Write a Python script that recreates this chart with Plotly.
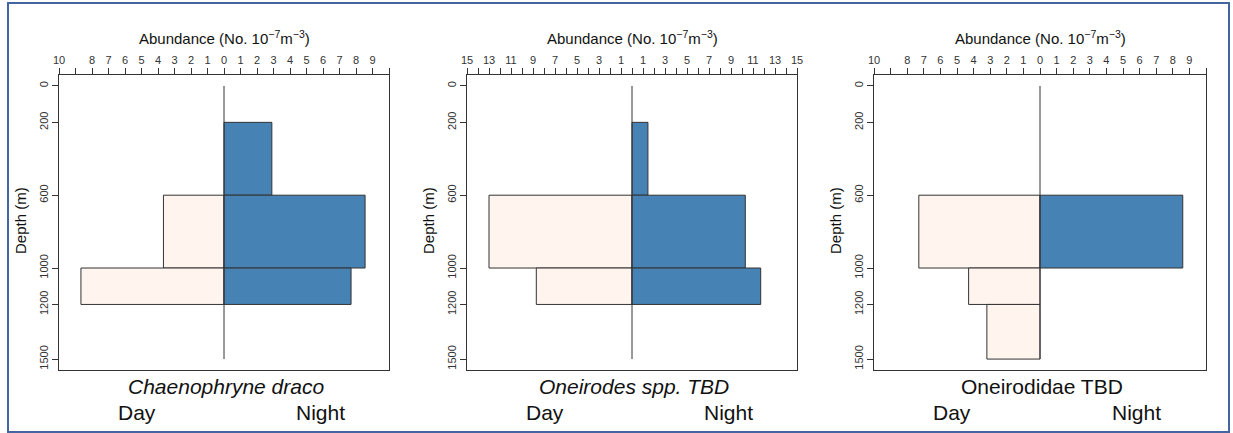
import plotly.graph_objects as go

# ---- data ----
species = ["Chaenophryne draco", "Oneirodes spp. TBD", "Oneirodidae TBD"]
italic = [True, True, False]
bin_top = [200, 600, 1000, 1200]
bin_bottom = [600, 1000, 1200, 1500]
night_vals = [
    [2.9, 8.55, 7.7, 0],
    [1.45, 10.3, 11.7, 0],
    [0, 8.6, 0, 0],
]
day_vals = [
    [0, 3.67, 8.67, 0],
    [0, 13.0, 8.7, 0],
    [0, 7.3, 4.3, 3.2],
]
xmax = [10, 15, 10]
depth_ticks = [0, 200, 600, 1000, 1200, 1500]
# top-axis labels per panel (None -> tick without label)
tick_labels_p1 = ["10", None, "8", "7", "6", "5", "4", "3", "2", "1", "0",
                  "1", "2", "3", "4", "5", "6", "7", "8", "9", None]
tick_labels_p2 = ["15", None, "13", None, "11", None, "9", None, "7", None, "5", None,
                  "3", None, "1", None, "1", None, "3", None, "5", None, "7", None,
                  "9", None, "11", None, "13", None, "15"]
tick_labels = [tick_labels_p1, tick_labels_p2, tick_labels_p1]

W, H = 1233, 433
panel_px = [(59, 389), (467, 797), (874, 1206)]
top_px, bot_px = 75, 370

fig = go.Figure()
axis_font = dict(family="Liberation Sans, Arial, sans-serif", size=11, color="#333333")
annotations = []

for i in range(3):
    xa = "x" if i == 0 else f"x{i+1}"
    ya = "y" if i == 0 else f"y{i+1}"
    ny, nw, nx = [], [], []
    for t, b, v in zip(bin_top, bin_bottom, night_vals[i]):
        if v > 0:
            ny.append((t + b) / 2); nw.append(b - t); nx.append(v)
    dy, dw, dx = [], [], []
    for t, b, v in zip(bin_top, bin_bottom, day_vals[i]):
        if v > 0:
            dy.append((t + b) / 2); dw.append(b - t); dx.append(-v)
    fig.add_trace(go.Bar(x=dx, y=dy, width=dw, base=0, orientation="h",
                         marker=dict(color="#FFF5EE", line=dict(color="#333333", width=1)),
                         xaxis=xa, yaxis=ya, showlegend=False))
    fig.add_trace(go.Bar(x=nx, y=ny, width=nw, base=0, orientation="h",
                         marker=dict(color="#4682B4", line=dict(color="#333333", width=1)),
                         xaxis=xa, yaxis=ya, showlegend=False))
    fig.add_trace(go.Scatter(x=[0, 0], y=[depth_ticks[0], depth_ticks[-1]], mode="lines",
                             line=dict(color="#333333", width=1),
                             xaxis=xa, yaxis=ya, showlegend=False, hoverinfo="skip"))

    m = xmax[i]
    tv = list(range(-m, m + 1))
    tt = [lab if lab is not None else "" for lab in tick_labels[i]]
    x0, x1 = panel_px[i]
    dom_x = [x0 / W, x1 / W]
    dom_y = [1 - bot_px / H, 1 - top_px / H]
    xkey = "xaxis" if i == 0 else f"xaxis{i+1}"
    ykey = "yaxis" if i == 0 else f"yaxis{i+1}"
    fig.layout[xkey] = dict(domain=dom_x, anchor=ya, side="top", range=[-m, m],
                            tickvals=tv, ticktext=tt, ticks="outside", ticklen=6,
                            tickcolor="#333333", showline=True, mirror=True,
                            linecolor="#333333", linewidth=1, showgrid=False,
                            zeroline=False, tickfont=axis_font, fixedrange=True,
                            automargin=False)
    fig.layout[ykey] = dict(domain=dom_y, anchor=xa, range=[1560, -60],
                            tickvals=depth_ticks, ticktext=[str(d) for d in depth_ticks],
                            ticks="outside", ticklen=6, tickcolor="#333333",
                            tickangle=-90, showline=True, mirror=True,
                            linecolor="#333333", linewidth=1, showgrid=False,
                            zeroline=False, tickfont=axis_font, fixedrange=True,
                            automargin=False)
    cx = (x0 + x1) / 2 / W
    common = dict(xref="paper", yref="paper", showarrow=False,
                  xanchor="center", yanchor="middle")
    annotations.append(dict(text="Abundance (No. 10<sup>\u22127</sup>m<sup>\u22123</sup>)",
                            x=cx, y=1 - 37 / H, font=dict(size=15, color="#111111"), **common))
    name = f"<i>{species[i]}</i>" if italic[i] else species[i]
    annotations.append(dict(text=name, x=(x0 + x1) / 2 / W + 2 / W, y=1 - 386 / H,
                            font=dict(size=21, color="#111111"), **common))
    annotations.append(dict(text="Day", x=(x0 + 0.245 * (x1 - x0) - 3) / W, y=1 - 412 / H,
                            font=dict(size=21, color="#111111"), **common))
    annotations.append(dict(text="Night", x=(x0 + 0.8 * (x1 - x0) - 3) / W, y=1 - 412 / H,
                            font=dict(size=21, color="#111111"), **common))
    annotations.append(dict(text="Depth (m)", x=(x0 - 39) / W, y=1 - 221 / H,
                            textangle=-90, font=dict(size=15, color="#111111"), **common))

fig.update_layout(
    width=W, height=H, margin=dict(l=0, r=0, t=0, b=0, pad=0, autoexpand=False),
    paper_bgcolor="white", plot_bgcolor="white", barmode="overlay",
    font=dict(family="Liberation Sans, Arial, sans-serif"),
    annotations=annotations,
    shapes=[dict(type="rect", xref="paper", yref="paper",
                 x0=8 / W, x1=1229 / W, y0=1 - 432 / H, y1=1 - 3 / H,
                 line=dict(color="#4464A2", width=2))],
)

fig.write_html("out.html", config={"displayModeBar": False},
               post_script="document.body.style.margin='0px';document.body.style.overflow='hidden';")
